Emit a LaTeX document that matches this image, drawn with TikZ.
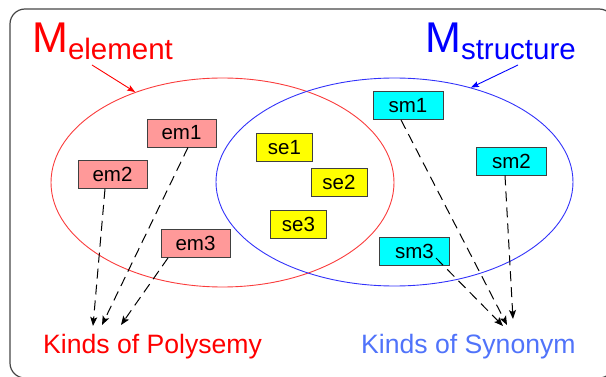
\documentclass[tikz,border=0pt]{standalone}
\usepackage{fontspec}
\setmainfont{Liberation Sans}
\usetikzlibrary{shapes.geometric,arrows.meta}
\definecolor{pinkc}{RGB}{255,153,153}
\definecolor{cyanc}{RGB}{0,255,255}
\definecolor{yellowc}{RGB}{255,255,0}
\definecolor{redc}{RGB}{255,0,0}
\definecolor{bluec}{RGB}{0,0,255}
\definecolor{ered}{RGB}{250,60,60}
\definecolor{eblue}{RGB}{50,50,250}
\definecolor{synblue}{RGB}{80,115,250}
\definecolor{framec}{RGB}{70,70,70}
\tikzset{
  box/.style={draw=black!75, line width=0.8pt, minimum height=28pt, inner sep=0pt,
    font=\fontsize{20.5}{20.5}\selectfont},
  embox/.style={box, fill=pinkc, minimum width=69pt},
  smbox/.style={box, fill=cyanc, minimum width=70pt},
  sebox/.style={box, fill=yellowc, minimum width=56pt},
  setellipse/.style={ellipse, draw, line width=0.9pt, inner sep=0pt},
  dasharrow/.style={black, line width=1pt, dash pattern=on 10pt off 6pt,
    -{Stealth[length=9pt,width=7pt,inset=2pt]}},
  labelarrow/.style={line width=0.9pt, -{Stealth[length=8pt,width=6pt,inset=1.5pt]}},
  kindlabel/.style={anchor=base west, inner sep=0pt, font=\fontsize{26.6}{26.6}\selectfont}
}
\begin{document}
\begin{tikzpicture}[x=1pt,y=-1pt]
\useasboundingbox (0,0) rectangle (606,377);
\begin{scope}
  \clip (0,0) rectangle (606,377);
  \draw[framec, line width=1.2pt, rounded corners=15pt] (10,9) rectangle (614,378);
\end{scope}

% sets
\node[setellipse, draw=ered, minimum width=343pt, minimum height=209pt] (RE) at (222.5,182.5) {};
\node[setellipse, draw=eblue, minimum width=357pt, minimum height=208pt] (BE) at (394.5,182) {};

% titles
\node[anchor=base west, inner sep=0pt, text=redc] (ML) at (32,53)
  {\fontsize{43}{43}\selectfont M\raisebox{-7pt}{\fontsize{29.5}{29.5}\selectfont element}};
\node[anchor=base west, inner sep=0pt, text=bluec] (MS) at (425,53)
  {\fontsize{43}{43}\selectfont M\raisebox{-7pt}{\fontsize{29.5}{29.5}\selectfont structure}};
\coordinate (mlt) at (92,65);
\coordinate (mst) at (518,65);
\draw[labelarrow, redc] (mlt) -- (RE.134.7);
\draw[labelarrow, bluec] (mst) -- (BE.51.2);

% boxes
\node[embox] (em1) at (181.5,133) {em1};
\node[embox] (em2) at (112.5,174.5) {em2};
\node[embox] (em3) at (195.5,243.5) {em3};
\node[sebox] (se1) at (284.5,147.5) {se1};
\node[sebox] (se2) at (339,182) {se2};
\node[sebox] (se3) at (298.5,224) {se3};
\node[smbox] (sm1) at (408,105.5) {sm1};
\node[smbox] (sm2) at (511.5,161) {sm2};
\node[smbox] (sm3) at (414.5,251) {sm3};

% bottom labels
\node[kindlabel, text=redc] (KP) at (43,353) {Kinds of Polysemy};
\node[kindlabel, text=synblue] (KS) at (361,353) {Kinds of Synonym};

% arrow targets
\coordinate (pa) at (93,326);
\coordinate (pb) at (102,325);
\coordinate (pc) at (121,325);
\coordinate (sa) at (507,325);
\coordinate (sb) at (513,319);
\coordinate (sc) at (503,326);

% dashed arrows
\draw[dasharrow] ([xshift=-7.5pt]em2.south) -- (pa);
\draw[dasharrow] ([xshift=6.5pt]em1.south) -- (pb);
\draw[dasharrow] ([xshift=-27.5pt]em3.south) -- (pc);
\draw[dasharrow] ([xshift=-7pt]sm1.south) -- (sa);
\draw[dasharrow] ([xshift=-6.5pt]sm2.south) -- (sb);
\draw[dasharrow] ([xshift=21.5pt,yshift=-7pt]sm3.center) -- (sc);
\end{tikzpicture}
\end{document}
